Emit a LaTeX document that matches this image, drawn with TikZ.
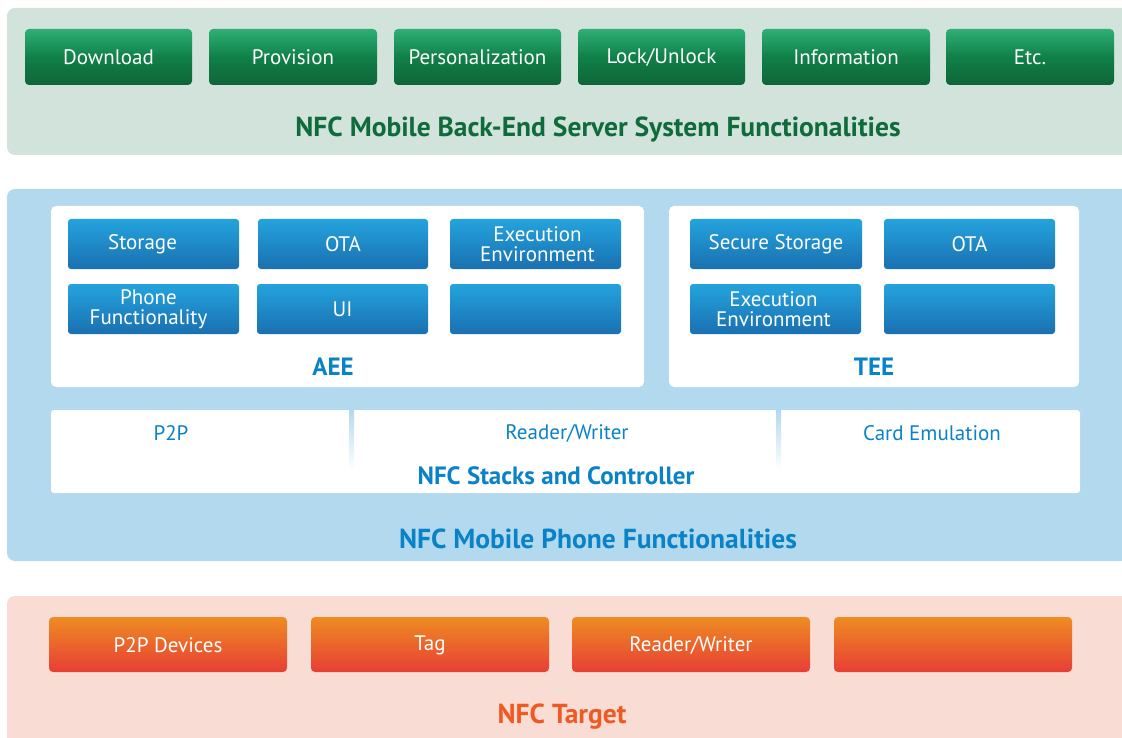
\documentclass[tikz,border=0pt]{standalone}
\usepackage{fontspec}
\setmainfont{PT Sans}
\definecolor{gpanel}{HTML}{D2E3DB}
\definecolor{bpanel}{HTML}{B3D9EE}
\definecolor{opanel}{HTML}{F9DDD4}
\definecolor{gtop}{HTML}{2EAF75}
\definecolor{gmid}{HTML}{108048}
\definecolor{gbot}{HTML}{0E6537}
\definecolor{btop}{HTML}{24A3DE}
\definecolor{bbot}{HTML}{1A70B0}
\definecolor{otop}{HTML}{EE8C22}
\definecolor{obot}{HTML}{E83E35}
\definecolor{gtitle}{HTML}{0F6B3A}
\definecolor{btitle}{HTML}{0A82C8}
\definecolor{otitle}{HTML}{EE5A24}
\tikzset{
  panel/.style={rounded corners=8pt},
  gbtn/.style={rounded corners=4pt, top color=gtop, bottom color=gbot, middle color=gmid},
  bbtn/.style={rounded corners=3pt, top color=btop, bottom color=bbot},
  obtn/.style={rounded corners=4pt, top color=otop, bottom color=obot},
  btxt/.style={text=white, font=\fontsize{21}{21}\selectfont, align=center},
  btxt2/.style={text=white, font=\fontsize{21}{20.5}\selectfont, align=center},
  wbox/.style={fill=white, rounded corners=5pt},
  ttl/.style={font=\fontsize{27.5}{27.5}\selectfont\bfseries},
  sttl/.style={font=\fontsize{25}{25}\selectfont\bfseries, text=btitle},
  stxt/.style={font=\fontsize{21}{21}\selectfont, text=btitle},
}
\begin{document}
\begin{tikzpicture}[x=1pt,y=-1pt]
\clip (0,0) rectangle (1122,738);
\fill[white] (0,0) rectangle (1122,738);
% top panel
\fill[gpanel,panel] (7,8) rectangle (1140,155);
\foreach \n/\a/\b/\t in {dl/25/192/Download, pv/209/377/Provision, ps/394/561/Personalization, lk/578/745/Lock\slash Unlock, inf/762/930/Information, etc/946/1114/Etc.}{
  \shade[gbtn] (\a,29) rectangle (\b,85);
  \node[btxt] (\n) at ({(\a+\b)/2},57) {\t};
}
\node[ttl, text=gtitle] (srv) at (598,130) {NFC Mobile Back-End Server System Functionalities};
% middle panel
\fill[bpanel,panel] (7,189) rectangle (1140,561);
\fill[wbox] (51,206) rectangle (644,387);
\fill[wbox] (669,206) rectangle (1079,387);
\foreach \n/\a/\b/\y/\d/\t in {st/68/239/219/-11/Storage, ota/258/428/219/0/OTA, ee/450/621/219/2/{Execution\\Environment}, pf/68/239/284/-5/{Phone\\Functionality}, ui/257/428/284/0/UI, ae/450/621/284/0/{}, ss/690/862/219/0/Secure Storage, tota/884/1055/219/0/OTA, tee2/690/861/284/-2/{Execution\\Environment}, te/884/1055/284/0/{}}{
  \shade[bbtn] (\a,\y) rectangle (\b,\y+50);
  \node[btxt2] (\n) at ({(\a+\b)/2+\d},\y+25) {\t};
}
\node[sttl] (aee) at (333,367) {AEE};
\node[sttl] (tee) at (874,367) {TEE};
\fill[wbox, rounded corners=3pt] (51,410) rectangle (1080,493);
\shade[top color=bpanel, bottom color=white] (349,410) rectangle (354,470);
\shade[top color=bpanel, bottom color=white] (776,410) rectangle (781,470);
\node[stxt] (p2p) at (171,433) {P2P};
\node[stxt] (rw) at (567,433) {Reader/Writer};
\node[stxt] (ce) at (932,433) {Card Emulation};
\node[sttl] (nsc) at (556,476) {NFC Stacks and Controller};
\node[ttl, text=btitle] (mob) at (598,539) {NFC Mobile Phone Functionalities};
% bottom panel
\fill[opanel,panel] (7,596) rectangle (1140,760);
\foreach \n/\a/\b/\t in {pd/49/287/{P2P Devices}, tag/311/549/{Tag}, orw/572/810/{Reader/Writer}, oe/834/1072/{}}{
  \shade[obtn] (\a,617) rectangle (\b,672);
  \node[btxt] (\n) at ({(\a+\b)/2},645) {\t};
}
\node[ttl, text=otitle] (tgt) at (562,717) {NFC Target};
\end{tikzpicture}
\end{document}
